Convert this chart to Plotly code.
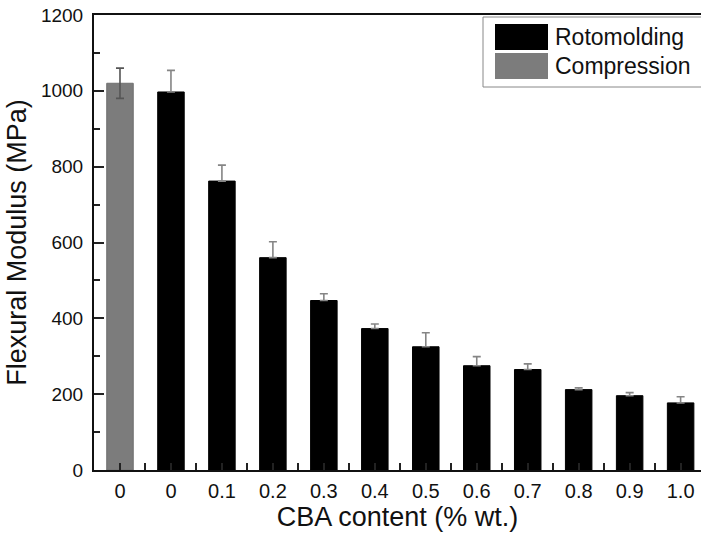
import plotly.graph_objects as go

# Data
categories = ["0", "0", "0.1", "0.2", "0.3", "0.4", "0.5", "0.6", "0.7", "0.8", "0.9", "1.0"]
compression_value = [1020]
compression_err = [40]
roto_values = [997, 762, 560, 447, 373, 325, 275, 265, 212, 196, 177]
roto_err = [57, 42, 42, 18, 12, 37, 24, 15, 5, 8, 16]

pos = list(range(len(categories)))
W, H = 701, 535
L, T, B, R = 94, 15, 65, 0
pw, ph = W - L - R, H - T - B

def px(x):
    return (x - L) / pw

def py(y):
    return (H - B - y) / ph

fig = go.Figure()
fig.add_trace(go.Bar(
    x=pos[:1], y=compression_value, width=0.52,
    marker=dict(color="#7c7c7c", line=dict(color="#707070", width=1)),
    error_y=dict(type="data", array=compression_err, symmetric=True,
                 color="#555555", thickness=1.6, width=4),
    showlegend=False,
))
fig.add_trace(go.Bar(
    x=pos[1:], y=roto_values, width=0.52,
    marker=dict(color="#000000", line=dict(color="#000000", width=1)),
    error_y=dict(type="data", array=roto_err, arrayminus=[0] * len(roto_err),
                 symmetric=False, color="#858585", thickness=1.6, width=4),
    showlegend=False,
))

font = "Liberation Sans, Arial, sans-serif"
fig.update_layout(
    width=W, height=H, barmode="overlay",
    margin=dict(l=L, r=R, t=T, b=B),
    plot_bgcolor="white", paper_bgcolor="white",
    font=dict(family=font, color="#111111"),
    xaxis=dict(
        range=[-0.51, 11.4], tickvals=pos, ticktext=categories,
        ticks="inside", ticklen=7, tickwidth=1.6, tickcolor="#222",
        minor=dict(ticks="inside", dtick=1, tick0=0.5, ticklen=7, tickwidth=1.6, tickcolor="#222"),
        showline=True, linecolor="#111", linewidth=2, mirror=True,
        showgrid=False, zeroline=False,
        ticklabelstandoff=2,
        tickfont=dict(size=20, family=font),
        title=dict(text="CBA content (% wt.)", font=dict(size=27, family=font), standoff=0),
    ),
    yaxis=dict(
        range=[0, 1200], tickvals=[0, 200, 400, 600, 800, 1000, 1200],
        ticks="inside", ticklen=10, tickwidth=1.6, tickcolor="#222",
        minor=dict(ticks="inside", dtick=100, ticklen=6, tickwidth=1.6, tickcolor="#222"),
        showline=True, linecolor="#111", linewidth=2, mirror=False,
        showgrid=False, zeroline=False,
        ticklabelstandoff=5,
        tickfont=dict(size=19, family=font),
        title=dict(text="Flexural Modulus (MPa)", font=dict(size=27, family=font), standoff=6),
    ),
)

# Custom legend
fig.add_shape(type="rect", xref="paper", yref="paper",
              x0=px(483), x1=px(705), y0=py(87), y1=py(17),
              line=dict(color="#888888", width=1), fillcolor="white")
fig.add_shape(type="rect", xref="paper", yref="paper",
              x0=px(495), x1=px(548), y0=py(50), y1=py(24),
              line=dict(color="#000", width=0), fillcolor="#000000")
fig.add_shape(type="rect", xref="paper", yref="paper",
              x0=px(495), x1=px(548), y0=py(79), y1=py(53),
              line=dict(color="#6a6a6a", width=0), fillcolor="#7c7c7c")
for name, yc in [("Rotomolding", 37), ("Compression", 66)]:
    fig.add_annotation(text=name, xref="paper", yref="paper", x=px(553), y=py(yc),
                       xanchor="left", yanchor="middle", showarrow=False,
                       font=dict(size=23, family=font, color="#111111"))

fig.write_html("out.html")
